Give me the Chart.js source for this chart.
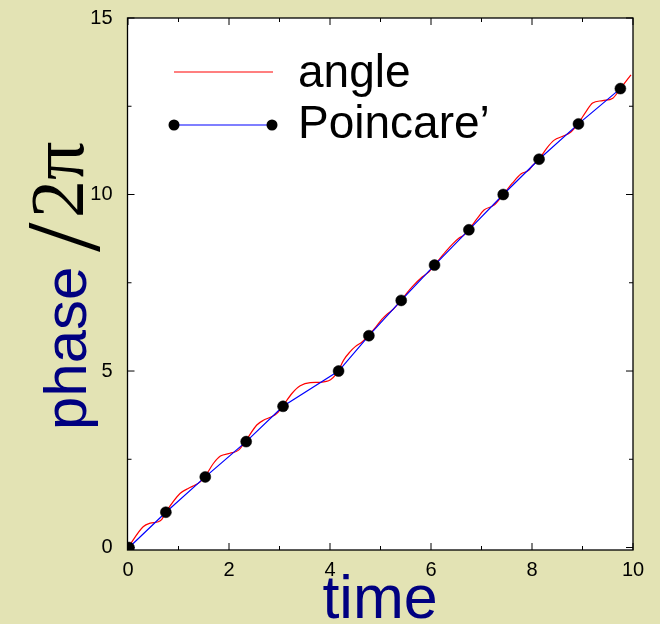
<!DOCTYPE html>
<html>
<head>
<meta charset="utf-8">
<script src="https://cdn.jsdelivr.net/npm/chart.js@4.4.1/dist/chart.umd.min.js"></script>
<style>
  html, body { margin: 0; padding: 0; background: #e3e3b4; }
  #wrap { width: 660px; height: 624px; }
</style>
</head>
<body>
<div id="wrap"><canvas id="phaseChart" width="660" height="624"></canvas></div>
<script>
// continuous phase of the angle (in turns) against time
const angleTime = [0, 0.30, 0.44, 0.60, 0.67, 0.75, 1.03, 1.20, 1.33, 1.43, 1.53, 1.69, 1.83, 2.02, 2.19, 2.34,
  2.55, 2.69, 2.82, 2.95, 3.07, 3.25, 3.41, 3.61, 3.81, 4.01, 4.11, 4.17, 4.27, 4.40, 4.50, 4.64, 4.77,
  4.91, 5.03, 5.13, 5.26, 5.41, 5.63, 5.83, 5.96, 6.07, 6.29, 6.43, 6.55, 6.65, 6.75, 6.92, 7.05, 7.25,
  7.43, 7.61, 7.78, 7.94, 8.00, 8.14, 8.29, 8.44, 8.61, 8.77, 8.92, 9.07, 9.20, 9.40, 9.60, 9.75, 9.96];
const anglePhase = [0, 0.59, 0.69, 0.73, 0.80, 1.0, 1.53, 1.68, 1.77, 1.86, 2.02, 2.38, 2.59, 2.67, 2.76, 3.04,
  3.47, 3.61, 3.69, 3.80, 4.02, 4.37, 4.58, 4.67, 4.68, 4.75, 4.89, 5.02, 5.31, 5.55, 5.69, 5.83, 6.02,
  6.25, 6.47, 6.61, 6.76, 7.01, 7.39, 7.67, 7.81, 8.0, 8.38, 8.60, 8.76, 8.85, 9.01, 9.33, 9.56, 9.70,
  10.0, 10.32, 10.58, 10.69, 10.80, 11.0, 11.31, 11.54, 11.65, 11.77, 12.02, 12.35, 12.59, 12.66, 12.73, 13.0, 13.39];

// Poincare section crossings
const poincareTime = [0.02, 0.75, 1.53, 2.34, 3.07, 4.17, 4.77, 5.41, 6.07, 6.75, 7.43, 8.14, 8.92, 9.75];
const poincarePhase = [0, 1, 2, 3, 4, 5, 6, 7, 8, 9, 10, 11, 12, 13];

const xTickValues = [0, 2, 4, 6, 8, 10];
const xMinorValues = [1, 3, 5, 7, 9];
const yTickValues = [0, 5, 10, 15];
const yMinorValues = [2.5, 7.5, 12.5];
const seriesLabels = ['angle', 'Poincare\u2019'];

const toPoints = (xs, ys) => xs.map((x, i) => ({ x: x, y: ys[i] }));

Chart.defaults.font.family = '"Liberation Sans", Arial, sans-serif';

// white plot box, frame and inward tick marks on all four sides
const frameBox = {
  id: 'frameBox',
  beforeDatasetsDraw(chart) {
    const { ctx, chartArea: a } = chart;
    ctx.save();
    ctx.fillStyle = '#ffffff';
    ctx.fillRect(a.left, a.top, a.right - a.left, a.bottom - a.top);
    ctx.restore();
  },
  afterDatasetsDraw(chart) {
    const { ctx, chartArea: a, scales } = chart;
    ctx.save();
    ctx.strokeStyle = '#000000';
    ctx.lineWidth = 1.3;
    ctx.strokeRect(a.left, a.top, a.right - a.left, a.bottom - a.top);
    ctx.lineWidth = 1;
    ctx.beginPath();
    const xTick = (v, len) => {
      const px = scales.x.getPixelForValue(v);
      ctx.moveTo(px, a.bottom); ctx.lineTo(px, a.bottom - len);
      ctx.moveTo(px, a.top); ctx.lineTo(px, a.top + len);
    };
    const yTick = (v, len) => {
      const py = scales.y.getPixelForValue(v);
      ctx.moveTo(a.left, py); ctx.lineTo(a.left + len, py);
      ctx.moveTo(a.right, py); ctx.lineTo(a.right - len, py);
    };
    xTickValues.forEach(v => xTick(v, 7));
    xMinorValues.forEach(v => xTick(v, 4));
    yTickValues.forEach(v => yTick(v, 7));
    yMinorValues.forEach(v => yTick(v, 4));
    ctx.stroke();
    ctx.restore();
  }
};

// legend in the upper left of the plot
const insideLegend = {
  id: 'insideLegend',
  afterDraw(chart) {
    const { ctx } = chart;
    const ds = chart.data.datasets;
    const angleSet = ds.find(d => d.label === seriesLabels[0]);
    const poinSet = ds.find(d => d.label === seriesLabels[1]);
    ctx.save();
    ctx.lineWidth = 1.2;
    ctx.strokeStyle = angleSet.borderColor;
    ctx.beginPath(); ctx.moveTo(174, 72); ctx.lineTo(273, 72); ctx.stroke();
    ctx.strokeStyle = poinSet.borderColor;
    ctx.beginPath(); ctx.moveTo(174, 125); ctx.lineTo(272, 125); ctx.stroke();
    ctx.fillStyle = '#000000';
    [174, 272].forEach(x => {
      ctx.beginPath(); ctx.arc(x, 125, 5.5, 0, Math.PI * 2); ctx.fill();
    });
    ctx.font = '46px "Liberation Sans", Arial, sans-serif';
    ctx.textBaseline = 'alphabetic';
    ctx.fillText(angleSet.label, 298, 87);
    ctx.fillText(poinSet.label, 298, 138);
    ctx.restore();
  }
};

// axis titles: "time" and the rotated "phase /2π"
const axisTitles = {
  id: 'axisTitles',
  afterDraw(chart) {
    const { ctx } = chart;
    ctx.save();
    ctx.fillStyle = '#000080';
    ctx.font = '61px "Liberation Sans", Arial, sans-serif';
    ctx.textAlign = 'center';
    ctx.textBaseline = 'alphabetic';
    ctx.fillText('time', 380, 618);

    ctx.translate(86, 430);
    ctx.rotate(-Math.PI / 2);
    ctx.textAlign = 'left';
    ctx.font = '60px "Liberation Sans", Arial, sans-serif';
    ctx.fillText('phase', 0, 0);
    ctx.fillStyle = '#000000';
    ctx.font = '106px "Liberation Serif", "Times New Roman", serif';
    ctx.fillText('/', 178, 13);
    ctx.font = '76px "Liberation Serif", "Times New Roman", serif';
    ctx.fillText('2\u03c0', 212, -3);
    ctx.restore();
  }
};

// keep the plot box where the layout padding puts it
const noLabelPadding = s => { s.paddingTop = 0; s.paddingBottom = 0; s.paddingLeft = 0; s.paddingRight = 0; };

new Chart(document.getElementById('phaseChart'), {
  type: 'scatter',
  data: {
    datasets: [
      {
        label: seriesLabels[1],
        data: toPoints(poincareTime, poincarePhase),
        showLine: true,
        borderColor: '#0000ff',
        borderWidth: 1.2,
        tension: 0,
        pointRadius: 5.5,
        pointBackgroundColor: '#000000',
        pointBorderColor: '#000000',
        pointBorderWidth: 0.5
      },
      {
        label: seriesLabels[0],
        data: toPoints(angleTime, anglePhase),
        showLine: true,
        borderColor: '#ff0000',
        borderWidth: 1.2,
        cubicInterpolationMode: 'monotone',
        pointRadius: 0
      }
    ]
  },
  options: {
    responsive: false,
    animation: false,
    devicePixelRatio: 1,
    layout: { padding: { top: 18, right: 27, left: 0, bottom: 0 } },
    plugins: { legend: { display: false }, tooltip: { enabled: false } },
    scales: {
      x: {
        type: 'linear',
        min: -0.01,
        max: 10,
        grid: { display: false, drawTicks: false },
        border: { display: false },
        ticks: { color: '#000000', font: { size: 20 }, padding: 8, maxRotation: 0, autoSkip: false },
        afterBuildTicks: s => { s.ticks = xTickValues.map(v => ({ value: v })); },
        afterFit: s => { s.height = 74; noLabelPadding(s); }
      },
      y: {
        type: 'linear',
        min: -0.07,
        max: 15,
        grid: { display: false, drawTicks: false },
        border: { display: false },
        ticks: { color: '#000000', font: { size: 20 }, padding: 15, autoSkip: false },
        afterBuildTicks: s => { s.ticks = yTickValues.map(v => ({ value: v })); },
        afterFit: s => { s.width = 127.5; noLabelPadding(s); }
      }
    }
  },
  plugins: [frameBox, insideLegend, axisTitles]
});
</script>
</body>
</html>
